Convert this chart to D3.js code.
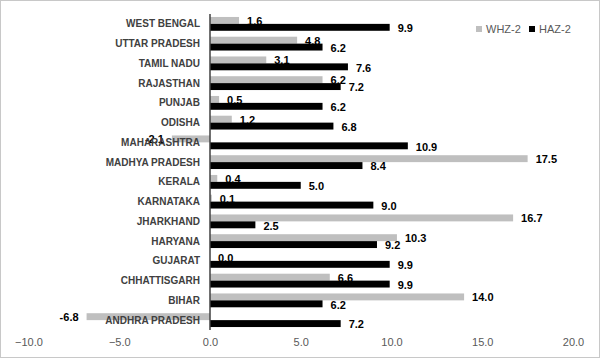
<!DOCTYPE html>
<html><head><meta charset="utf-8">
<script src="https://cdn.jsdelivr.net/npm/d3@7"></script>
<style>body{margin:0;background:#fff}svg{display:block}</style>
</head><body>
<svg id="c" width="600" height="358"></svg>
<script>
const categories = ["WEST BENGAL","UTTAR PRADESH","TAMIL NADU","RAJASTHAN","PUNJAB","ODISHA","MAHARASHTRA","MADHYA PRADESH","KERALA","KARNATAKA","JHARKHAND","HARYANA","GUJARAT","CHHATTISGARH","BIHAR","ANDHRA PRADESH"];
const whz = [1.6,4.8,3.1,6.2,0.5,1.2,-2.1,17.5,0.4,0.1,16.7,10.3,0.0,6.6,14.0,-6.8];
const haz = [9.9,6.2,7.6,7.2,6.2,6.8,10.9,8.4,5.0,9.0,2.5,9.2,9.9,9.9,6.2,7.2];
const seriesNames = ["WHZ-2","HAZ-2"];
const seriesColors = ["#bfbfbf","#000000"];
const xTicks = [-10,-5,0,5,10,15,20];

const svg = d3.select("#c");
svg.append("rect").attr("x",0.5).attr("y",0.5).attr("width",599).attr("height",357)
  .attr("fill","#fff").attr("stroke","#c8c8c8");

const x = d3.scaleLinear().domain([-10,20]).range([28.5,573]);
const y = d3.scaleBand().domain(categories).range([14,330]).paddingInner(0.3).paddingOuter(0.15);
const ys = d3.scaleBand().domain(seriesNames).range([0,y.bandwidth()]);

const data = categories.map((c,i)=>({c, vals:[whz[i],haz[i]]}));
const g = svg.append("g");
data.forEach(d=>{
  d.vals.forEach((v,k)=>{
    const s = seriesNames[k];
    const y0 = y(d.c)+ys(s);
    g.append("rect").attr("x",Math.min(x(0),x(v))).attr("y",y0)
      .attr("width",Math.abs(x(v)-x(0))).attr("height",ys.bandwidth())
      .attr("fill",seriesColors[k]);
  });
});
// axis line
svg.append("line").attr("x1",x(0)).attr("x2",x(0)).attr("y1",14).attr("y2",330)
  .attr("stroke","#404040").attr("stroke-width",1.5);

// data labels
data.forEach(d=>{
  d.vals.forEach((v,k)=>{
    const s = seriesNames[k];
    const cy = y(d.c)+ys(s)+ys.bandwidth()/2;
    const neg = v<0;
    svg.append("text").attr("x",neg? x(v)-8 : x(v)+8).attr("y",cy+(k===0? 0.5:1))
      .attr("dy","0.35em").attr("text-anchor",neg?"end":"start")
      .attr("font-family","Liberation Sans, Arial, sans-serif").attr("font-weight","bold")
      .attr("font-size","11px").attr("fill","#000").text(v.toFixed(1));
  });
});

// category labels
categories.forEach(c=>{
  svg.append("text").attr("x",200).attr("y",y(c)+y.bandwidth()/2)
    .attr("dy","0.35em").attr("text-anchor","end")
    .attr("font-family","Liberation Sans, Arial, sans-serif").attr("font-weight","bold")
    .attr("font-size","10px").attr("fill","#404040").text(c);
});

// x tick labels
const xa = svg.append("g").attr("transform","translate(0,338)")
  .call(d3.axisBottom(x).tickValues(xTicks).tickFormat(d3.format(".1f")).tickSize(0).tickPadding(0));
xa.select(".domain").remove();
xa.selectAll("text").attr("font-family","Liberation Sans, Arial, sans-serif")
  .attr("font-size","11px").attr("fill","#595959").attr("dy","0.71em");

// legend
const leg = svg.append("g");
const lx = [476, 529];
seriesNames.forEach((s,k)=>{
  leg.append("rect").attr("x",lx[k]).attr("y",26).attr("width",6).attr("height",6).attr("fill",seriesColors[k]);
  leg.append("text").attr("x",lx[k]+10).attr("y",29).attr("dy","0.35em")
    .attr("font-family","Liberation Sans, Arial, sans-serif").attr("font-size","11px")
    .attr("fill","#595959").text(s);
});
</script>
</body></html>
